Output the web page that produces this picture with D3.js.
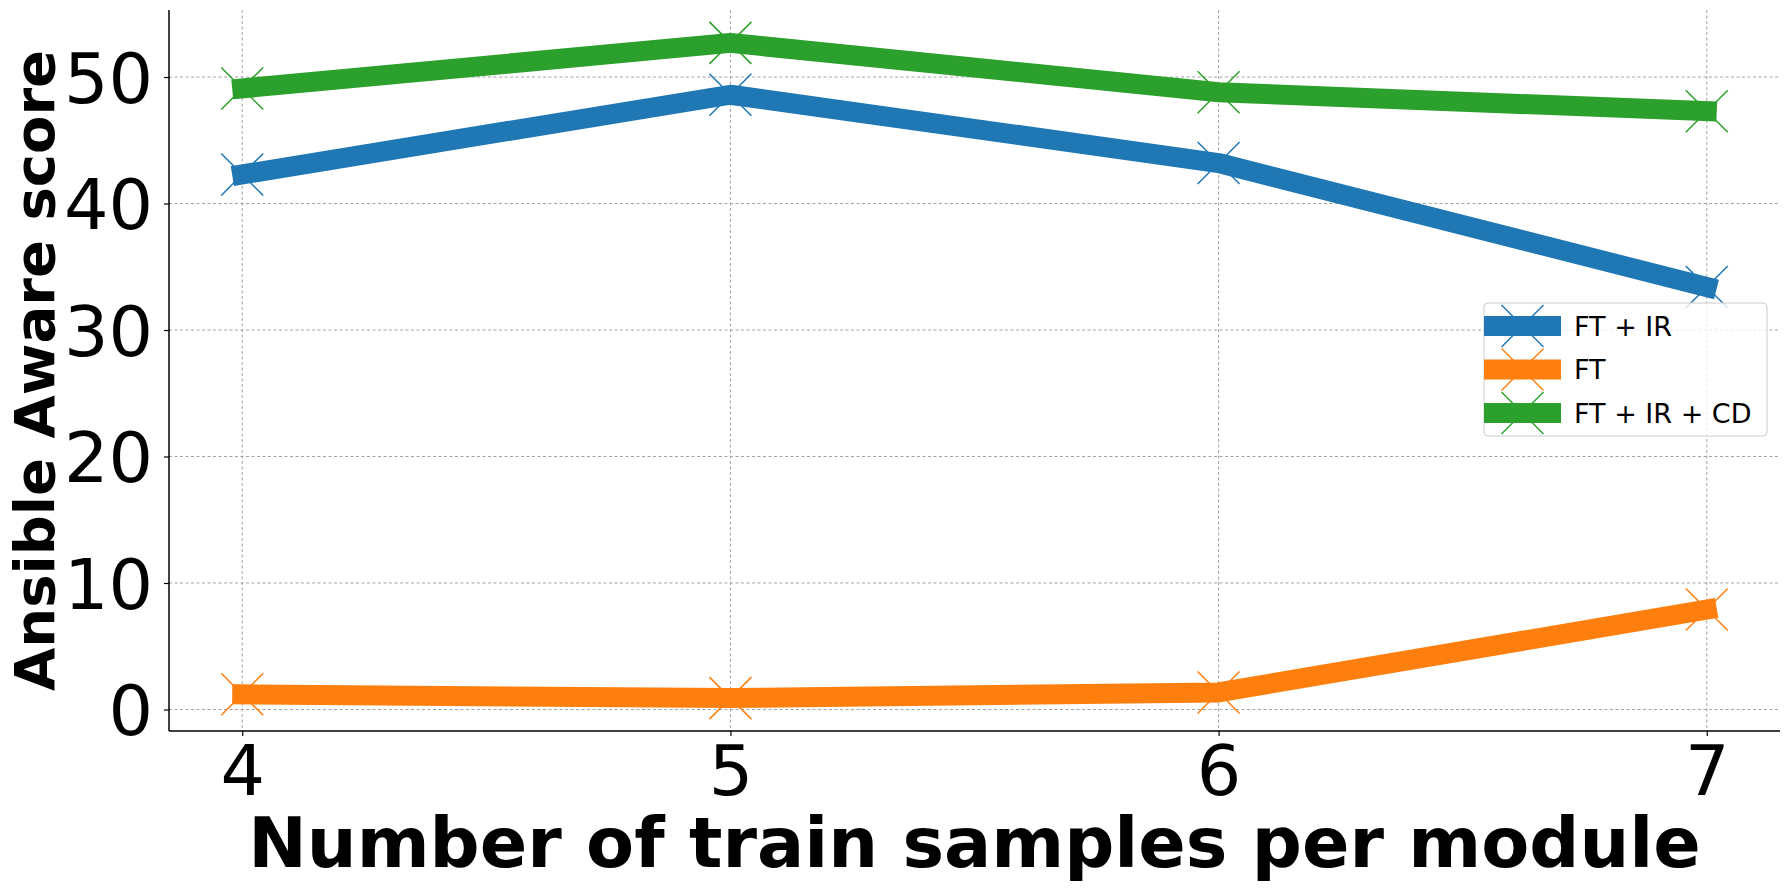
<!DOCTYPE html>
<html><head><meta charset="utf-8">
<script src="https://cdn.jsdelivr.net/npm/d3@7"></script>
<style>body{margin:0;background:#fff}svg{display:block;font-family:"DejaVu Sans",sans-serif}</style>
</head><body>
<svg id="c" width="1790" height="890"></svg>
<script>
const xValues = [4, 5, 6, 7];
const seriesNames = ["FT + IR", "FT", "FT + IR + CD"];
const seriesColors = ["#1f77b4", "#ff7f0e", "#2ca02c"];
const ftIr = [42.3, 48.6, 43.2, 33.4];
const ft = [1.2, 0.9, 1.35, 7.9];
const ftIrCd = [49.1, 52.7, 48.8, 47.3];
const yTicks = [0, 10, 20, 30, 40, 50];
const xLabel = "Number of train samples per module";
const yLabel = "Ansible Aware score";

const seriesValues = [ftIr, ft, ftIrCd];
const svg = d3.select("#c");
const L = 169, R = 1780, T = 10, B = 731;
const x = d3.scaleLinear().domain([3.85, 7.15]).range([L, R]);
const y = d3.scaleLinear().domain([-1.7, 55.3]).range([B, T]);

// grid
const grid = svg.append("g").attr("stroke", "#999").attr("stroke-width", 0.9).attr("stroke-dasharray", "3,2.5");
yTicks.forEach(t => grid.append("line").attr("x1", L).attr("x2", R).attr("y1", y(t)).attr("y2", y(t)));
xValues.forEach(t => grid.append("line").attr("x1", x(t)).attr("x2", x(t)).attr("y1", T).attr("y2", B));

// axes
const xAxis = d3.axisBottom(x).tickValues(xValues).tickFormat(d3.format("d")).tickSize(5).tickPadding(6);
const yAxis = d3.axisLeft(y).tickValues(yTicks).tickFormat(d3.format("d")).tickSize(5).tickPadding(11);
const gx = svg.append("g").attr("transform", `translate(0,${B})`).call(xAxis);
const gy = svg.append("g").attr("transform", `translate(${L},0)`).call(yAxis);
[gx, gy].forEach(g => {
  g.select(".domain").remove();
  g.selectAll(".tick line").attr("stroke", "#000").attr("stroke-width", 1.2);
  g.selectAll(".tick text").attr("font-size", 70).attr("fill", "#000").attr("font-family", "DejaVu Sans");
});
gx.selectAll(".tick text").attr("dy", "0.75em");
gy.selectAll(".tick text").attr("dy", "0.36em");
svg.append("line").attr("x1", L).attr("x2", L).attr("y1", T).attr("y2", B).attr("stroke", "#000").attr("stroke-width", 1.5);
svg.append("line").attr("x1", L).attr("x2", R).attr("y1", B).attr("y2", B).attr("stroke", "#000").attr("stroke-width", 1.5);

// lines + markers
const line = d3.line().x((d, i) => x(xValues[i])).y(d => y(d));
const ms = 21;
seriesValues.forEach((vals, si) => {
  const c = seriesColors[si];
  svg.append("path").datum(vals).attr("d", line).attr("fill", "none").attr("stroke", c)
    .attr("stroke-width", 20).attr("stroke-linecap", "square").attr("stroke-linejoin", "round");
  const mg = svg.append("g").attr("stroke", c).attr("stroke-width", 1.5);
  vals.forEach((v, i) => {
    const cx = x(xValues[i]), cy = y(v);
    mg.append("line").attr("x1", cx - ms).attr("y1", cy - ms).attr("x2", cx + ms).attr("y2", cy + ms);
    mg.append("line").attr("x1", cx - ms).attr("y1", cy + ms).attr("x2", cx + ms).attr("y2", cy - ms);
  });
});

// axis labels
svg.append("text").attr("x", (L + R) / 2).attr("y", 867).attr("text-anchor", "middle")
  .attr("font-size", 70).attr("font-weight", "bold").text(xLabel);
svg.append("text").attr("transform", `translate(54,${(T + B) / 2}) rotate(-90)`).attr("text-anchor", "middle")
  .attr("font-size", 56).attr("font-weight", "bold").text(yLabel);

// legend
const lg = svg.append("g");
lg.append("rect").attr("x", 1484).attr("y", 303).attr("width", 283).attr("height", 133).attr("rx", 4)
  .attr("fill", "#fff").attr("fill-opacity", 0.8).attr("stroke", "#ccc").attr("stroke-width", 1);
seriesNames.forEach((n, i) => {
  const cy = 326 + i * 43.5, c = seriesColors[i];
  lg.append("line").attr("x1", 1484).attr("x2", 1561).attr("y1", cy).attr("y2", cy).attr("stroke", c).attr("stroke-width", 20);
  const cx = 1522.5;
  lg.append("line").attr("x1", cx - ms).attr("y1", cy - ms).attr("x2", cx + ms).attr("y2", cy + ms).attr("stroke", c).attr("stroke-width", 1.5);
  lg.append("line").attr("x1", cx - ms).attr("y1", cy + ms).attr("x2", cx + ms).attr("y2", cy - ms).attr("stroke", c).attr("stroke-width", 1.5);
  lg.append("text").attr("x", 1574).attr("y", cy).attr("dy", "0.36em").attr("font-size", 27).text(n);
});
</script>
</body></html>
